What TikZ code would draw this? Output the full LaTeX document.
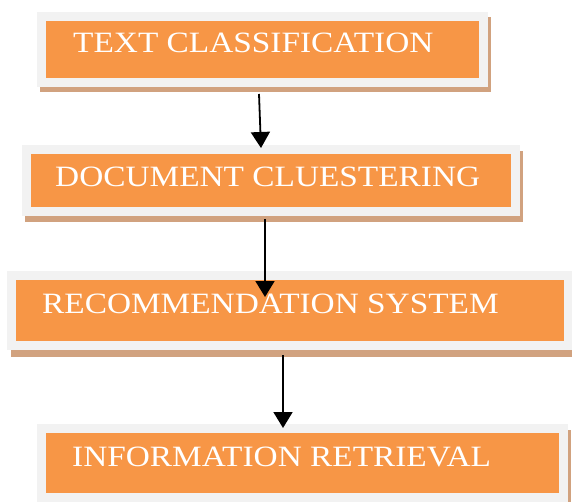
\documentclass[tikz,border=0pt]{standalone}
\usepackage{fontspec}
\setmainfont{Liberation Serif}
\usetikzlibrary{arrows.meta,backgrounds}
\definecolor{boxorange}{HTML}{F79646}
\definecolor{framegray}{HTML}{F2F2F2}
\definecolor{shadowtan}{HTML}{D1A27F}
\tikzset{
  stage/.style={rectangle, draw=framegray, fill=boxorange, line width=9pt, inner sep=0pt},
  lbl/.style={anchor=base west, inner sep=0pt, text=white, font=\fontsize{29.5}{30}\selectfont},
  flow/.style={-{Triangle[width=19pt,length=16pt]}, line width=1.8pt, draw=black},
  shadowfill/.style={fill=shadowtan}
}
\newcommand{\wideText}[1]{\scalebox{1.13}[1]{#1}}
\begin{document}
\begin{tikzpicture}[x=1pt,y=-1pt]
\useasboundingbox (0,0) rectangle (572,502);
% boxes
\node[stage, minimum width=442pt, minimum height=66pt] (f1) at (262.5,49.5) {};
\node[stage, minimum width=489pt, minimum height=62pt] (f2) at (271,180.5) {};
\node[stage, minimum width=557pt, minimum height=70pt] (f3) at (290,310.5) {};
\node[stage, minimum width=522pt, minimum height=69pt] (f4) at (302.5,463) {};
% shadows
\begin{scope}[on background layer]
  \fill[shadowfill] ([shift={(3,5.5)}]f1.south west) rectangle ([shift={(3,5.5)}]f1.north east);
  \fill[shadowfill] ([shift={(3,6)}]f2.south west) rectangle ([shift={(3,6)}]f2.north east);
  \fill[shadowfill] ([shift={(3.5,6.5)}]f3.south west) rectangle ([shift={(3.5,6.5)}]f3.north east);
  \fill[shadowfill] ([shift={(3,5.5)}]f4.south west) rectangle ([shift={(3,5.5)}]f4.north east);
\end{scope}
% labels
\node[lbl] (t1) at (73,53) {\wideText{TEXT CLASSIFICATION}};
\node[lbl] (t2) at (55,187) {\wideText{DOCUMENT CLUESTERING}};
\node[lbl] (t3) at (42,313) {\wideText{RECOMMENDATION SYSTEM}};
\node[lbl] (t4) at (72,466) {\wideText{INFORMATION RETRIEVAL}};
% connectors
\draw[flow] ([shift={(-3.5,7)}]f1.south) -- ([shift={(-10,3)}]f2.north);
\draw[flow] ([shift={(-6,3)}]f2.south) -- ([shift={(-25,26)}]f3.north);
\draw[flow] ([shift={(-7,5)}]f3.south) -- ([shift={(-19.5,4)}]f4.north);
\end{tikzpicture}
\end{document}
